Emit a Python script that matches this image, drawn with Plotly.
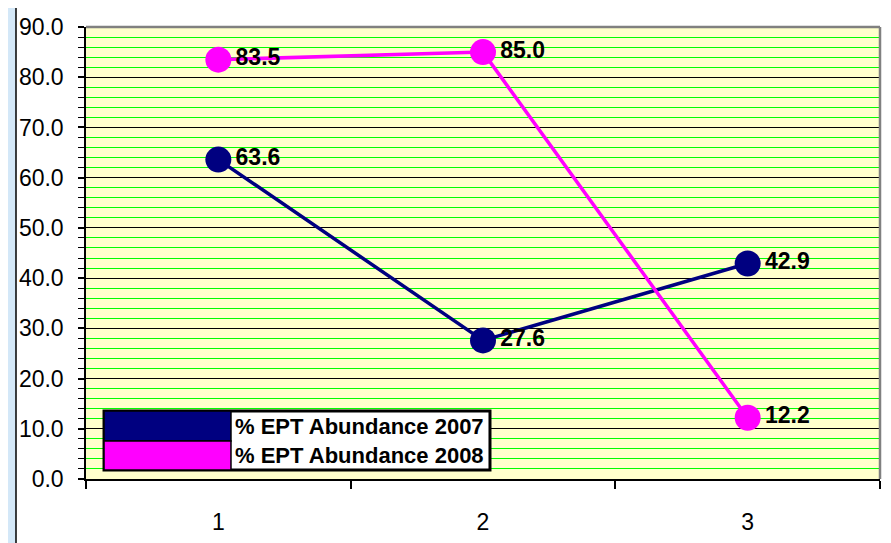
import plotly.graph_objects as go

categories = [1, 2, 3]
series_names = ["% EPT Abundance 2007", "% EPT Abundance 2008"]
values_2007 = [63.6, 27.6, 42.9]
values_2008 = [83.5, 85.0, 12.2]
y_ticks = [0, 10, 20, 30, 40, 50, 60, 70, 80, 90]

colors = ["#000080", "#FF00FF"]

# page body has an 8px margin, so the figure is sized to end at the window edge
W, H = 883, 535
ML, MR, MT, MB = 78, 11, 19, 64
PW = W - ML - MR
PH = H - MT - MB

fig = go.Figure()
for name, vals, col in zip(series_names, [values_2007, values_2008], colors):
    fig.add_trace(go.Scatter(
        x=categories, y=vals, name=name, mode="lines+markers+text",
        line=dict(color=col, width=3.5),
        marker=dict(color=col, size=26),
        text=[f"{v:.1f}" for v in vals],
        textposition="middle right",
        textfont=dict(family="Arial, Liberation Sans", size=23, color="black", weight="bold"),
        cliponaxis=False,
        showlegend=False,
    ))

shapes = []
# light blue strip at the left of the page with the chart-area black border
shapes.append(dict(type="rect", xref="paper", yref="paper", x0=-ML / PW - 0.01, x1=(8 - ML) / PW,
                   y0=-0.3, y1=1.3, fillcolor="#D4E8F8", line=dict(width=0), layer="below"))
shapes.append(dict(type="line", xref="paper", yref="paper", x0=(8 - ML) / PW, x1=(8 - ML) / PW,
                   y0=-0.3, y1=1.3, line=dict(color="black", width=1.5), layer="below"))
# plot area gray border top/right
shapes.append(dict(type="line", xref="paper", yref="paper", x0=0, x1=1, y0=1, y1=1,
                   line=dict(color="#808080", width=2.5), layer="above"))
shapes.append(dict(type="line", xref="paper", yref="paper", x0=1, x1=1, y0=0, y1=1,
                   line=dict(color="#808080", width=2.5), layer="above"))

# manual legend (paper fractions of the plot area)
lx0, lxm, lx1 = 0.0227, 0.1826, 0.5088
ly0, lym, ly1 = 0.0199, 0.0841, 0.1504
shapes.append(dict(type="rect", xref="paper", yref="paper", x0=lx0, x1=lx1, y0=ly0, y1=ly1,
                   fillcolor="white", line=dict(color="black", width=3), layer="above"))
shapes.append(dict(type="rect", xref="paper", yref="paper", x0=lx0, x1=lxm, y0=lym, y1=ly1,
                   fillcolor=colors[0], line=dict(color="black", width=1.5), layer="above"))
shapes.append(dict(type="rect", xref="paper", yref="paper", x0=lx0, x1=lxm, y0=ly0, y1=lym,
                   fillcolor=colors[1], line=dict(color="black", width=1.5), layer="above"))

annotations = []
for i, name in enumerate(series_names):
    yc = (lym + ly1) / 2 if i == 0 else (ly0 + lym) / 2
    annotations.append(dict(xref="paper", yref="paper", x=lxm + 0.003, y=yc, text=name,
                            xanchor="left", yanchor="middle", showarrow=False,
                            font=dict(family="Arial, Liberation Sans", size=22, color="black", weight="bold")))

fig.update_layout(
    width=W, height=H,
    margin=dict(l=ML, r=MR, t=MT, b=MB, autoexpand=False),
    paper_bgcolor="white",
    plot_bgcolor="#FFFFCC",
    shapes=shapes,
    annotations=annotations,
    font=dict(family="Arial, Liberation Sans", size=23, color="black"),
    xaxis=dict(
        range=[0.5, 3.5], tickmode="array", tickvals=categories, ticktext=[str(c) for c in categories],
        ticks="", showgrid=False, zeroline=False,
        showline=True, linecolor="black", linewidth=1.5,
        ticklabelstandoff=22,
        minor=dict(tickmode="array", tickvals=[0.5, 1.5, 2.5, 3.5], ticks="outside", ticklen=8,
                   tickcolor="black", tickwidth=1.5, showgrid=False),
    ),
    yaxis=dict(
        range=[0, 90], tickmode="array", tickvals=y_ticks, ticktext=[f"{v:.1f}" for v in y_ticks],
        ticks="outside", ticklen=6, tickcolor="black", tickwidth=1.5,
        showgrid=True, gridcolor="black", gridwidth=1,
        zeroline=False, showline=True, linecolor="black", linewidth=1.5,
        ticklabelstandoff=10,
        minor=dict(dtick=2, ticks="outside", ticklen=6, tickcolor="black", tickwidth=1.2,
                   showgrid=True, gridcolor="#00FF00", gridwidth=1.2),
    ),
)

fig.write_html("out.html")
